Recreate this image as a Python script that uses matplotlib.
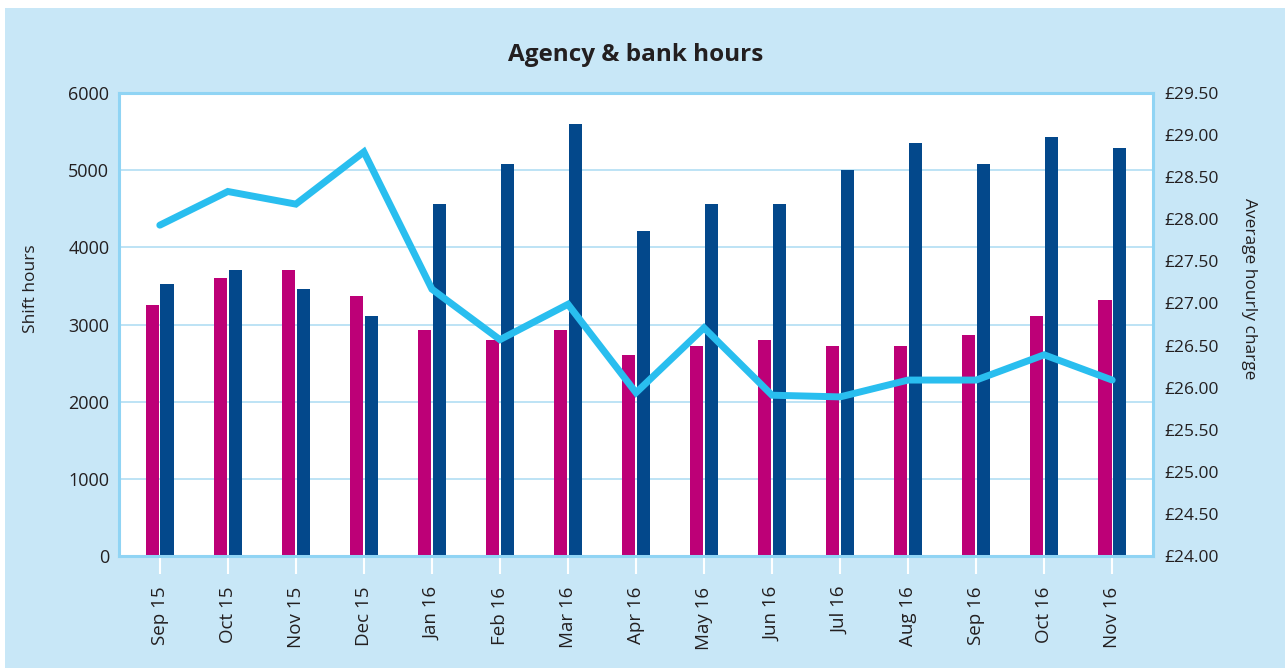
import numpy as np
import matplotlib.pyplot as plt
from matplotlib.patches import Rectangle

plt.rcParams['font.family'] = ['Open Sans', 'DejaVu Sans']

# data
months = ['Sep 15', 'Oct 15', 'Nov 15', 'Dec 15', 'Jan 16', 'Feb 16', 'Mar 16', 'Apr 16',
          'May 16', 'Jun 16', 'Jul 16', 'Aug 16', 'Sep 16', 'Oct 16', 'Nov 16']
bank_hours = [3250, 3600, 3710, 3370, 2930, 2800, 2930, 2610,
              2720, 2800, 2720, 2720, 2870, 3110, 3320]
agency_hours = [3525, 3710, 3460, 3110, 4560, 5080, 5600, 4210,
                4560, 4560, 5000, 5350, 5080, 5430, 5290]
avg_charge = [27.93, 28.33, 28.18, 28.80, 27.17, 26.57, 26.99, 25.94,
              26.71, 25.91, 25.89, 26.09, 26.09, 26.39, 26.09]

bg = '#c8e7f7'
magenta = '#bd0077'
navy = '#03488b'
cyan = '#29beef'
frame = '#90d4f4'
txt = '#231f20'

W, H = 1285, 668
fig = plt.figure(figsize=(W / 100, H / 100), dpi=100)
fig.patch.set_facecolor('white')
fig.add_artist(Rectangle((5 / W, 0), 1, (H - 8) / H, transform=fig.transFigure,
                         facecolor=bg, edgecolor='none', zorder=-10))

ax = fig.add_axes([119 / W, 1 - 556 / H, (1153 - 119) / W, (556 - 93) / H])
ax.set_facecolor('white')
x = np.arange(len(months))
ax.bar(x - 0.11, bank_hours, width=0.2, color=magenta, zorder=2)
ax.bar(x + 0.11, agency_hours, width=0.2, color=navy, zorder=2)
ax.set_xlim(-0.6, len(months) - 0.4)
ax.set_ylim(0, 6000)
ax.set_yticks(range(0, 6001, 1000))
ax.grid(axis='y', color='#b8e1f5', linewidth=1.3, zorder=0)
ax.set_axisbelow(True)
ax.set_xticks(x)
ax.set_xticklabels(months, rotation=90, fontsize=13.5, color=txt)
ax.tick_params(axis='x', length=13, width=1.5, color='white', pad=9)
ax.tick_params(axis='y', length=0, pad=7, labelsize=13, labelcolor=txt)
ax.set_ylabel('Shift hours', fontsize=12.5, color=txt)
ax.yaxis.set_label_coords(-0.077, 0.577)
for s in ax.spines.values():
    s.set_visible(False)

ax2 = ax.twinx()
ax2.plot(x, avg_charge, color=cyan, linewidth=5, solid_joinstyle='miter',
         solid_capstyle='round', zorder=3)
ax2.set_ylim(24, 29.5)
ax2.set_yticks(np.arange(24, 29.51, 0.5))
ax2.set_yticklabels(['£{:.2f}'.format(v) for v in np.arange(24, 29.51, 0.5)])
ax2.tick_params(axis='y', length=0, pad=8.5, labelsize=12.5, labelcolor=txt)
ax2.set_ylabel('Average hourly charge', fontsize=12.5, color=txt, rotation=270)
ax2.yaxis.set_label_coords(1.1006, 0.577)
for s in ax2.spines.values():
    s.set_color(frame)
    s.set_linewidth(2.2)

fig.text(636 / W, 1 - 55 / H, 'Agency & bank hours', ha='center', va='center',
         fontsize=17.5, fontweight='bold', color=txt)

plt.savefig('out.png', dpi=100)
